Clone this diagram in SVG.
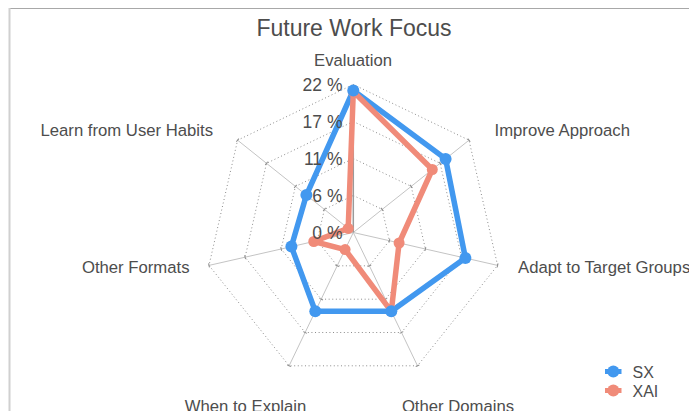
<svg xmlns="http://www.w3.org/2000/svg" width="689" height="411" viewBox="0 0 689 411">
  <style>
    text { font-family: "Liberation Sans", Arial, Helvetica, sans-serif; fill: #4d4d4d; }
    .title { font-size: 23px; }
    .lbl { font-size: 16.7px; }
    .val { font-size: 17.5px; text-anchor: end; }
    .ring { fill: none; stroke: #8c8c8c; stroke-width: 1; stroke-dasharray: 1 2.6; }
    .spoke { fill: none; stroke: #c4c4c4; stroke-width: 1; marker-mid: url(#tick); marker-end: url(#tick); }
    .sx { fill: none; stroke: #4298ef; stroke-width: 5.5; stroke-linejoin: round; }
    .xai { fill: none; stroke: #f08b79; stroke-width: 5.5; stroke-linejoin: round; }
    .sxd { fill: #4298ef; }
    .xaid { fill: #f08b79; }
  </style>
  <defs>
    <marker id="tick" viewBox="-3 -3 6 6" markerWidth="6" markerHeight="6" markerUnits="userSpaceOnUse" orient="auto">
      <path d="M0,-2 L0,2" stroke="#8c8c8c" stroke-width="1" fill="none"/>
    </marker>
  </defs>

  <rect width="689" height="411" fill="#ffffff"/>
  <!-- frame -->
  <line x1="9" y1="8.5" x2="689" y2="8.5" stroke="#a8a8a8" stroke-width="1"/>
  <line x1="9.5" y1="8" x2="9.5" y2="411" stroke="#d0d0d0" stroke-width="2"/>

  <text class="title" x="354" y="36" text-anchor="middle">Future Work Focus</text>

  <g id="grid">
    <polygon class="ring" points="353.3,195.5 382.2,209.4 389.4,240.7 369.4,265.8 337.2,265.8 317.2,240.7 324.4,209.4"/>
    <polygon class="ring" points="353.3,158.5 411.2,186.4 425.4,249.0 385.4,299.2 321.2,299.2 281.2,249.0 295.4,186.4"/>
    <polygon class="ring" points="353.3,121.5 440.1,163.3 461.5,257.2 401.5,332.5 305.1,332.5 245.1,257.2 266.5,163.3"/>
    <polygon class="ring" points="353.3,84.5 469.0,140.2 497.6,265.4 417.5,365.8 289.1,365.8 209.0,265.4 237.6,140.2"/>
    <polyline class="spoke" points="353.3,232.5 382.2,209.4 411.2,186.4 440.1,163.3 469.0,140.2"/>
    <polyline class="spoke" points="353.3,232.5 389.4,240.7 425.4,249.0 461.5,257.2 497.6,265.4"/>
    <polyline class="spoke" points="353.3,232.5 369.4,265.8 385.4,299.2 401.5,332.5 417.5,365.8"/>
    <polyline class="spoke" points="353.3,232.5 337.2,265.8 321.2,299.2 305.1,332.5 289.1,365.8"/>
    <polyline class="spoke" points="353.3,232.5 317.2,240.7 281.2,249.0 245.1,257.2 209.0,265.4"/>
    <polyline class="spoke" points="353.3,232.5 324.4,209.4 295.4,186.4 266.5,163.3 237.6,140.2"/>
    <line x1="353.3" y1="232.5" x2="353.3" y2="84.5" stroke="#9a9a9a" stroke-width="1.5"/>
  </g>

  <g id="axis-labels">
    <text class="lbl" x="353" y="66" text-anchor="middle">Evaluation</text>
    <text class="lbl" x="494.5" y="136">Improve Approach</text>
    <text class="lbl" x="518" y="273">Adapt to Target Groups</text>
    <text class="lbl" x="458" y="411.5" text-anchor="middle">Other Domains</text>
    <text class="lbl" x="245.5" y="411.5" text-anchor="middle">When to Explain</text>
    <text class="lbl" x="189.5" y="273" text-anchor="end">Other Formats</text>
    <text class="lbl" x="213" y="136" text-anchor="end">Learn from User Habits</text>
  </g>

  <g id="series-lines">
    <polygon class="sx" points="353.3,90.5 445.6,158.9 465.4,258.1 391.3,311.3 315.3,311.3 291.4,246.6 306.4,195.1"/>
    <polygon class="xai" points="353.3,91.5 432.3,169.5 399.1,243.0 391.3,311.3 345.1,249.6 313.8,241.5 348.2,228.4"/>
  </g>

  <g id="xai-points">
    <circle class="xaid" cx="353.3" cy="91.5" r="5.5"/>
    <circle class="xaid" cx="432.3" cy="169.5" r="5.5"/>
    <circle class="xaid" cx="399.1" cy="243.0" r="5.5"/>
    <circle class="xaid" cx="391.3" cy="311.3" r="5.5"/>
    <circle class="xaid" cx="345.1" cy="249.6" r="5.5"/>
    <circle class="xaid" cx="313.8" cy="241.5" r="5.5"/>
    <circle class="xaid" cx="348.2" cy="228.4" r="5.5"/>
  </g>

  <g id="sx-points">
    <circle class="sxd" cx="353.3" cy="90.5" r="6"/>
    <circle class="sxd" cx="445.6" cy="158.9" r="6"/>
    <circle class="sxd" cx="465.4" cy="258.1" r="6"/>
    <circle class="sxd" cx="391.3" cy="311.3" r="6"/>
    <circle class="sxd" cx="315.3" cy="311.3" r="6"/>
    <circle class="sxd" cx="291.4" cy="246.6" r="6"/>
    <circle class="sxd" cx="306.4" cy="195.1" r="6"/>
  </g>

  <g id="value-labels">
    <text class="val" x="342.5" y="91">22 %</text>
    <text class="val" x="342.5" y="128">17 %</text>
    <text class="val" x="342.5" y="165">11 %</text>
    <text class="val" x="342.5" y="202">6 %</text>
    <text class="val" x="342.5" y="239">0 %</text>
  </g>

  <g id="legend">
    <g id="legend-sx">
      <line x1="605" y1="371.5" x2="621.5" y2="371.5" stroke="#4298ef" stroke-width="5"/>
      <circle class="sxd" cx="613.3" cy="371.5" r="6"/>
      <text x="632.5" y="377.5" style="font-size:16px">SX</text>
    </g>
    <g id="legend-xai">
      <line x1="605" y1="390.5" x2="621.5" y2="390.5" stroke="#f08b79" stroke-width="5"/>
      <circle class="xaid" cx="613.3" cy="390.5" r="6"/>
      <text x="632.5" y="396.5" style="font-size:16px">XAI</text>
    </g>
  </g>
</svg>
